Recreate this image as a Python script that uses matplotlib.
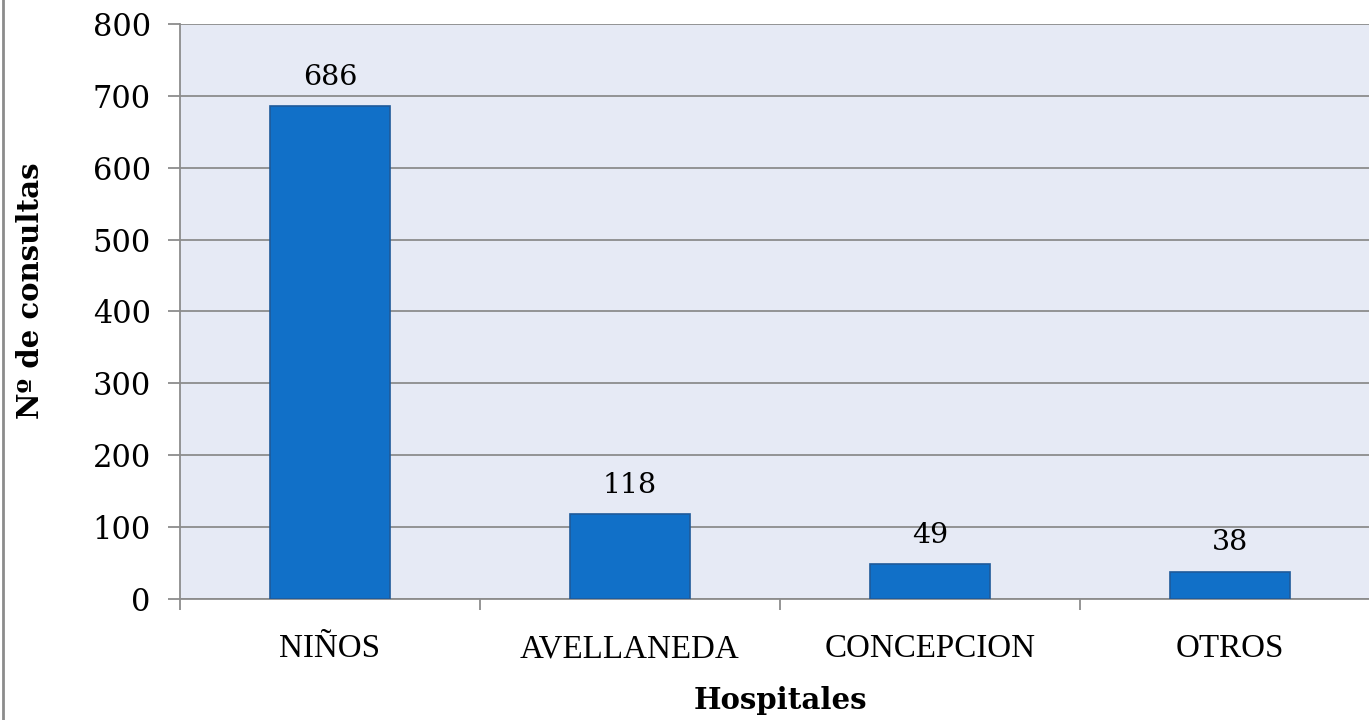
import matplotlib.pyplot as plt
from matplotlib.lines import Line2D

hospitales = ["NIÑOS", "AVELLANEDA", "CONCEPCION", "OTROS"]
consultas = [686, 118, 49, 38]

fig = plt.figure(figsize=(13.69, 7.2), dpi=100)
ax = fig.add_axes([180 / 1369, 121 / 720, 1200 / 1369, 575 / 720])
ax.set_facecolor("#E6EAF5")

x = range(len(hospitales))
bars = ax.bar(x, consultas, width=0.4, color="#1170C8", edgecolor="#1F5A9A", linewidth=1.2, zorder=3)

ax.set_xlim(-0.5, len(hospitales) - 0.5)
ax.set_ylim(0, 800)
ax.set_yticks(range(0, 801, 100))
ax.yaxis.grid(True, color="#8C8C8C", linewidth=1.3, zorder=0)
ax.set_axisbelow(True)

for s in ["top", "right"]:
    ax.spines[s].set_visible(False)
for s in ["left", "bottom"]:
    ax.spines[s].set_color("#8C8C8C")
    ax.spines[s].set_linewidth(1.3)

# category ticks sit between the bars
ax.set_xticks([i - 0.5 for i in x], minor=False)
ax.set_xticklabels([])
ax.set_xticks(list(x), minor=True)
ax.set_xticklabels(hospitales, minor=True, fontfamily="Liberation Serif", fontsize=23.8)
ax.tick_params(axis="x", which="major", length=8, width=1.3, color="#8C8C8C", direction="out")
ax.tick_params(axis="x", which="minor", length=0, pad=25)
ax.tick_params(axis="y", length=9, width=1.3, color="#8C8C8C", direction="out", pad=12)
for lab in ax.get_yticklabels():
    lab.set_fontfamily("DejaVu Serif")
    lab.set_fontsize(22)

for b, v in zip(bars, consultas):
    ax.annotate(str(v), (b.get_x() + b.get_width() / 2, v), xytext=(0, 11), textcoords="offset points",
                ha="center", va="bottom", fontfamily="DejaVu Serif", fontsize=20.5)

ax.set_xlabel("Hospitales", fontfamily="DejaVu Serif", fontweight="bold", fontsize=21, labelpad=16)
ax.set_ylabel("Nº de consultas", fontfamily="DejaVu Serif", fontweight="bold", fontsize=21, labelpad=34)
ax.yaxis.label.set_y(0.537)

fig.add_artist(Line2D([3 / 1369, 3 / 1369], [0, 1], transform=fig.transFigure, color="#8C8C8C", linewidth=2))

fig.savefig("out.png", dpi=100)
